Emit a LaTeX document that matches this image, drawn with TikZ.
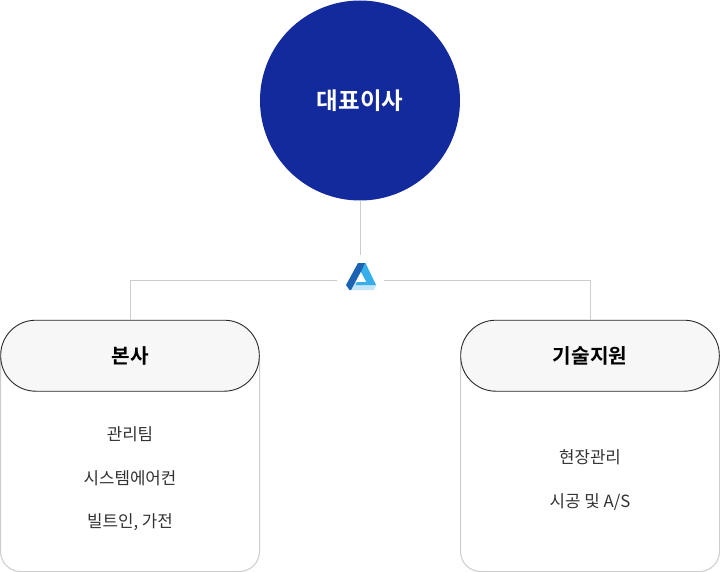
\documentclass[tikz,border=0pt]{standalone}
\usepackage{fontspec}
\setmainfont{Noto Sans CJK KR}
\newfontfamily\krbold{Noto Sans CJK KR Bold}
\definecolor{navy}{HTML}{132A9C}
\definecolor{linegray}{HTML}{CCCCCC}
\definecolor{pillfill}{HTML}{F7F7F7}
\definecolor{pilledge}{HTML}{2A2A2A}
\definecolor{bodytxt}{HTML}{333333}
\definecolor{logodark}{HTML}{1C63B4}
\definecolor{logomid}{HTML}{35AEEA}
\definecolor{logolight}{HTML}{C4E4F7}
\tikzset{
  connector/.style={draw=linegray,line width=1pt},
  cardbox/.style={draw=linegray,line width=1pt,fill=white,rounded corners=20pt},
  pillbox/.style={draw=pilledge,line width=0.9pt,fill=pillfill,rounded corners=35pt,minimum width=258.6pt,minimum height=71pt,inner sep=0pt,text=black,font=\krbold\fontsize{20.2}{24}\selectfont},
  itemtext/.style={text=bodytxt,font=\fontsize{16.8}{20}\selectfont,inner sep=0pt}
}
\begin{document}
\begin{tikzpicture}[x=1pt,y=-1pt]
\useasboundingbox (0,0) rectangle (720,572);
\fill[white] (0,0) rectangle (720,572);
% cards
\draw[cardbox] (0.5,340) rectangle (259.5,571.5);
\draw[cardbox] (460.5,340) rectangle (719.5,571.5);
% nodes
\node[circle,fill=navy,minimum size=200pt,inner sep=0pt,text=white,font=\krbold\fontsize{23.5}{28}\selectfont] (ceo) at (360,100.5) {대표이사};
\node[minimum width=46pt,minimum height=50pt,inner sep=0pt] (logo) at (360.5,280.3) {};
\node[pillbox] (hq) at (130,355.7) {본사};
\node[pillbox] (tech) at (590,355.7) {기술지원};
% connectors
\draw[connector] (ceo.south -| logo) -- (logo.north);
\draw[connector] (logo.west) -| (hq.north);
\draw[connector] (logo.east) -| (tech.north);
% logo mark
\fill[logolight] (350,290) -- (374,290) -- (376,285) -- (367,282) -- (355,282) -- cycle;
\fill[logomid] (357,282) -- (366.5,282) -- (368,285) -- (355.5,285) -- cycle;
\fill[logomid] (358,263) -- (365.5,263) -- (376,285) -- (368,285) -- (360.5,271) -- cycle;
\fill[logodark] (358,263) -- (365,263) -- (361.5,270.5) -- (351,290) -- (349.5,290) -- (346,285) -- cycle;
% items
\node[itemtext] (a1) at (130,434.6) {관리팀};
\node[itemtext] (a2) at (130,478.6) {시스템에어컨};
\node[itemtext] (a3) at (130,522.6) {빌트인, 가전};
\node[itemtext] (b1) at (590,457.6) {현장관리};
\node[itemtext] (b2) at (590,501.6) {시공 및 A/S};
\end{tikzpicture}
\end{document}
